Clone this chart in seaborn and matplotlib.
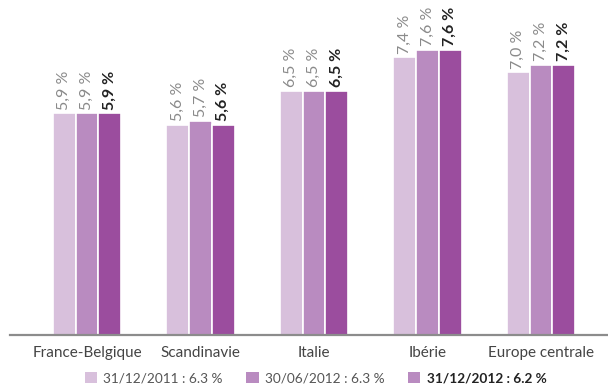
import matplotlib
matplotlib.use("Agg")
import matplotlib.pyplot as plt
from matplotlib.patches import Patch
import pandas as pd
import seaborn as sns

regions = ["France-Belgique", "Scandinavie", "Italie", "Ibérie", "Europe centrale"]
periods = ["31/12/2011", "30/06/2012", "31/12/2012"]
v_2011 = [5.9, 5.6, 6.5, 7.4, 7.0]
v_2012_06 = [5.9, 5.7, 6.5, 7.6, 7.2]
v_2012_12 = [5.9, 5.6, 6.5, 7.6, 7.2]
legend_labels = ["31/12/2011 : 6.3 %", "30/06/2012 : 6.3 %", "31/12/2012 : 6.2 %"]

colors = ["#d8c0dc", "#b98bc0", "#9b4d9e"]
legend_colors = ["#d8c0dc", "#b98bc0", "#b98bc0"]

df = pd.DataFrame({
    "region": regions * 3,
    "period": [p for p in periods for _ in regions],
    "value": v_2011 + v_2012_06 + v_2012_12,
})

sns.set_style("white")
plt.rcParams["font.family"] = ["Lato", "DejaVu Sans"]

fig = plt.figure(figsize=(6.08, 3.86), dpi=100)
ax = fig.add_axes([10 / 608, 51.5 / 386, 598 / 608, 334.5 / 386])

sns.barplot(data=df, x="region", y="value", hue="period", palette=colors,
            saturation=1, width=0.6, edgecolor="white", linewidth=1.2,
            legend=False, ax=ax)

ax.set_ylim(0, 8.93)
ax.set_xlim(-0.678, 4.59)
ax.set_xlabel("")
ax.set_ylabel("")
ax.set_yticks([])
for side in ["top", "right", "left"]:
    ax.spines[side].set_visible(False)
ax.spines["bottom"].set_color("#8c8c8c")
ax.spines["bottom"].set_linewidth(1.6)
ax.tick_params(axis="x", length=0, pad=8, labelsize=11, labelcolor="#444444")

# value labels
for i, cont in enumerate(ax.containers):
    bold = i == 2
    for bar in cont:
        h = bar.get_height()
        ax.text(bar.get_x() + bar.get_width() / 2, h + 0.1,
                f"{h:.1f} %".replace(".", ","),
                rotation=90, ha="center", va="bottom", fontsize=11.5,
                color="#222222" if bold else "#8a8a8a",
                fontweight="bold" if bold else "normal")

handles = [Patch(facecolor=c, edgecolor="none") for c in legend_colors]
leg = fig.legend(handles, legend_labels, loc="center", bbox_to_anchor=(0.519, 8 / 386),
                 ncol=3, frameon=False, fontsize=9.8, handlelength=0.9, handleheight=0.9,
                 handletextpad=0.45, columnspacing=1.75, borderaxespad=0)
for k, t in enumerate(leg.get_texts()):
    if k == 2:
        t.set_fontweight("bold")
        t.set_color("#222222")
    else:
        t.set_color("#555555")

fig.savefig("out.png", dpi=100)
